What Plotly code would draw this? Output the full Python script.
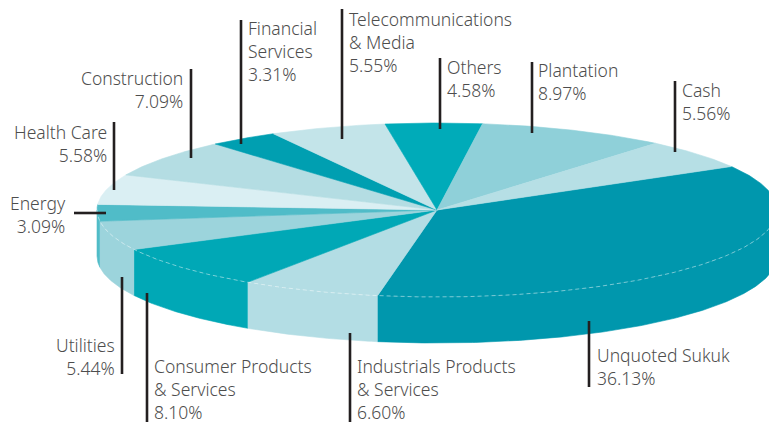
import numpy as np
import plotly.graph_objects as go

# ---- data (clockwise from the start angle) ----
categories = ["Unquoted Sukuk", "Industrials Products & Services", "Consumer Products & Services",
              "Utilities", "Energy", "Health Care", "Construction", "Financial Services",
              "Telecommunications & Media", "Others", "Plantation", "Cash"]
values = [36.13, 6.60, 8.10, 5.44, 3.09, 5.58, 7.09, 3.31, 5.55, 4.58, 8.97, 5.56]
label_text = [["Unquoted Sukuk", "36.13%"],
              ["Industrials Products", "& Services", "6.60%"],
              ["Consumer Products", "& Services", "8.10%"],
              ["Utilities", "5.44%"],
              ["Energy", "3.09%"],
              ["Health Care", "5.58%"],
              ["Construction", "7.09%"],
              ["Financial", "Services", "3.31%"],
              ["Telecommunications", "& Media", "5.55%"],
              ["Others", "4.58%"],
              ["Plantation", "8.97%"],
              ["Cash", "5.56%"]]
colors = ["#0097ad", "#b3dde4", "#00a8b6", "#9cd4dc", "#50bcc8", "#daeff3",
          "#b4dde3", "#009fb1", "#c3e4e9", "#00abb9", "#8fd0d9", "#b6dfe5"]

# ---- layout / geometry (pixels) ----
W, H = 769, 422
CX, CY, RX, RY, DEPTH = 437, 210, 340, 87, 46
START = 30.0  # degrees, pie runs clockwise

# label placement: (text x, first-line y, anchor, leader line x0,y0,x1,y1)
label_pos = [
    (596, 356, "left", (589, 321, 589, 387)),
    (356, 367, "left", (350, 333, 350, 422)),
    (153, 367, "left", (147, 293, 147, 422)),
    (116, 346, "right", (122, 277, 122, 374)),
    (67, 204, "right", (74, 213, 106, 213)),
    (108, 133, "right", (114, 122, 114, 190)),
    (184, 79, "right", (191, 69, 191, 158)),
    (247, 29, "left", (241, 20, 241, 144)),
    (348, 20, "left", (342, 9, 342, 139)),
    (446, 68, "left", (440, 58, 440, 129)),
    (537, 71, "left", (532, 62, 532, 133)),
    (681, 91, "left", (675, 81, 675, 152)),
]
FONT_SIZE = 17.5


def ell(t_deg, dy=0.0):
    t = np.radians(t_deg)
    return CX + RX * np.cos(t), CY - RY * np.sin(t) + dy


fig = go.Figure()

cum = np.concatenate([[0], np.cumsum(values)])
angles = [(START - cum[i] * 3.6, START - cum[i + 1] * 3.6) for i in range(len(values))]

# side walls (front half only: -180..0 deg)
for (a0, a1), col in zip(angles, colors):
    hi, lo = min(a0, 0.0), max(a1, -180.0)
    if hi <= lo:
        continue
    ts = np.linspace(hi, lo, max(int((hi - lo) * 2), 4))
    xt, yt = ell(ts)
    xb, yb = ell(ts[::-1], DEPTH)
    fig.add_trace(go.Scatter(x=np.concatenate([xt, xb]), y=np.concatenate([yt, yb]),
                             fill="toself", fillcolor=col, mode="lines",
                             line=dict(color=col, width=0.6), hoverinfo="skip", showlegend=False))

# top slices
for (a0, a1), col in zip(angles, colors):
    ts = np.linspace(a0, a1, max(int((a0 - a1) * 2), 4))
    xa, ya = ell(ts)
    fig.add_trace(go.Scatter(x=np.concatenate([[CX], xa, [CX]]), y=np.concatenate([[CY], ya, [CY]]),
                             fill="toself", fillcolor=col, mode="lines",
                             line=dict(color=col, width=0.6), hoverinfo="skip", showlegend=False))

# faint rim line along the front top edge
ts = np.linspace(-180, 0, 300)
xr, yr = ell(ts)
fig.add_trace(go.Scatter(x=xr, y=yr, mode="lines",
                         line=dict(color="rgba(255,255,255,0.45)", width=1, dash="4px,3px"),
                         hoverinfo="skip", showlegend=False))

shapes, annotations = [], []
for lines, (tx, ty, anc, (x0, y0, x1, y1)) in zip(label_text, label_pos):
    shapes.append(dict(type="line", x0=x0, y0=y0, x1=x1, y1=y1, xref="x", yref="y",
                       line=dict(color="#231f20", width=2.6)))
    yc = ty + (len(lines) - 1) * 21.5 / 2
    annotations.append(dict(x=tx, y=yc, xref="x", yref="y", text="<br>".join(lines),
                            showarrow=False, xanchor=anc, yanchor="middle", align=anc,
                            borderpad=0,
                            font=dict(family="Noto Sans", size=FONT_SIZE, weight=300,
                                      color="#4d4d4d")))

fig.update_layout(width=W, height=H, margin=dict(l=0, r=0, t=0, b=0),
                  paper_bgcolor="white", plot_bgcolor="white",
                  xaxis=dict(range=[0, W], visible=False, fixedrange=True),
                  yaxis=dict(range=[H, 0], visible=False, fixedrange=True),
                  shapes=shapes, annotations=annotations, showlegend=False)

fig.write_html("out.html", config={"displayModeBar": False},
               post_script="document.body.style.margin='0';document.body.style.overflow='hidden';")
